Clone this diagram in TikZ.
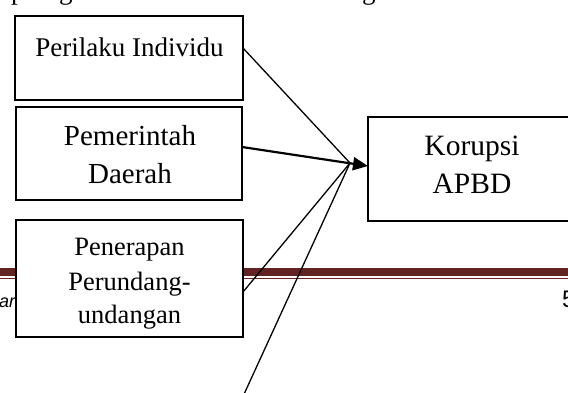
\documentclass[tikz,border=0pt]{standalone}
\usepackage{fontspec}
\setmainfont{Liberation Serif}
\newfontfamily\footfont{Liberation Sans}
\usetikzlibrary{arrows.meta}
\definecolor{rulered}{RGB}{98,36,35}
\begin{document}
\begin{tikzpicture}[x=1pt,y=1pt,
  box/.style={draw, line width=1.5pt, fill=white, inner sep=0pt, outer sep=0pt},
  lbl/.style={anchor=base, inner sep=0pt},
  conn/.style={line width=1.3pt},
  arr/.style={line width=2.2pt, -{Triangle[length=15pt,width=13pt]}}]
\useasboundingbox (0,0) rectangle (568,-392);
\clip (0,0) rectangle (568,-392);
% cut-off text line at the top
\node[lbl, anchor=base west, font=\fontsize{27}{32}\selectfont] (tp1) at (11,1) {p};
\node[lbl, anchor=base west, font=\fontsize{27}{32}\selectfont] (tp2) at (59,1) {g};
\node[lbl, anchor=base west, font=\fontsize{27}{32}\selectfont] (tp3) at (362,1) {g};
% page rule
\fill[rulered] (0,-268) rectangle (568,-275.5);
\fill[rulered] (0,-277.7) rectangle (568,-279.3);
% footer texts
\node[lbl, anchor=base west, font=\footfont\itshape\fontsize{18}{20}\selectfont] (fl) at (-1,-307) {ar};
\node[lbl, anchor=base west, font=\footfont\fontsize{24}{28}\selectfont] (fr) at (562,-307) {5};
% boxes
\node[box, minimum width=228pt, minimum height=84pt] (b1) at (129,-58) {};
\node[box, minimum width=226pt, minimum height=93pt] (b2) at (129,-153.5) {};
\node[box, minimum width=227pt, minimum height=117pt] (b3) at (129.5,-278.5) {};
\node[box, minimum width=207pt, minimum height=104pt] (k) at (471.5,-169) {};
% labels
\node[lbl, font=\fontsize{27}{32}\selectfont] (t1) at (129.5,-56) {Perilaku Individu};
\node[lbl, font=\fontsize{29}{34}\selectfont] (t2a) at (130,-145) {Pemerintah};
\node[lbl, font=\fontsize{29}{34}\selectfont] (t2b) at (130,-183) {Daerah};
\node[lbl, font=\fontsize{26.5}{32}\selectfont] (t3a) at (129.5,-255) {Penerapan};
\node[lbl, font=\fontsize{26.5}{32}\selectfont] (t3b) at (129.5,-290) {Perundang-};
\node[lbl, font=\fontsize{26.5}{32}\selectfont] (t3c) at (129.5,-323) {undangan};
\node[lbl, font=\fontsize{29.5}{34}\selectfont] (tka) at (472,-155) {Korupsi};
\node[lbl, font=\fontsize{29.5}{34}\selectfont] (tkb) at (472,-193) {APBD};
% connectors
\coordinate (m) at (350,-163);
\coordinate (lb) at (243.2,-396);
\draw[conn] ([yshift=10pt]b1.east) -- (m);
\draw[arr] ([yshift=6.5pt]b2.east) -- ([yshift=3pt]k.west);
\draw[conn] ([yshift=-13.5pt]b3.east) -- (m);
\draw[conn] (lb) -- (m);
\end{tikzpicture}
\end{document}
